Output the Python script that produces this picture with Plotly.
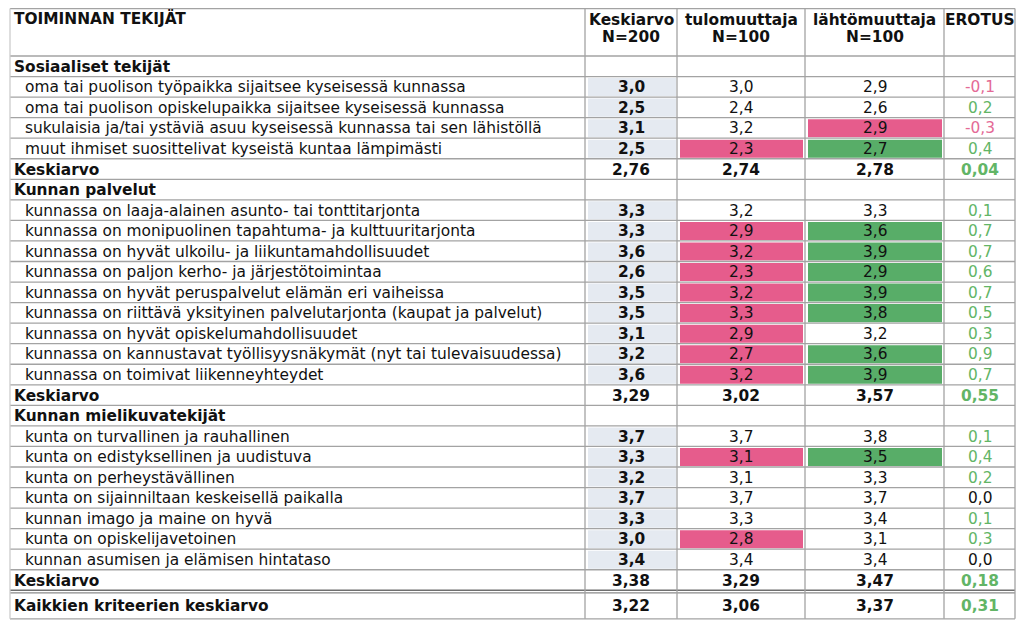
import plotly.graph_objects as go

# ---------------- data ----------------
header_title = "TOIMINNAN TEKIJÄT"
col_headers_1 = ["Keskiarvo", "tulomuuttaja", "lähtömuuttaja", "EROTUS"]
col_headers_2 = ["N=200", "N=100", "N=100", ""]

# row kinds: 'sec' = section title, 'item' = criterion, 'avg' = section average, 'total' = grand average
row_kinds = (["sec"] + ["item"] * 4 + ["avg"] +
             ["sec"] + ["item"] * 9 + ["avg"] +
             ["sec"] + ["item"] * 7 + ["avg"] + ["total"])

row_labels = [
    "Sosiaaliset tekijät",
    "oma tai puolison työpaikka sijaitsee kyseisessä kunnassa",
    "oma tai puolison opiskelupaikka sijaitsee kyseisessä kunnassa",
    "sukulaisia ja/tai ystäviä asuu kyseisessä kunnassa tai sen lähistöllä",
    "muut ihmiset suosittelivat kyseistä kuntaa lämpimästi",
    "Keskiarvo",
    "Kunnan palvelut",
    "kunnassa on laaja-alainen asunto- tai tonttitarjonta",
    "kunnassa on monipuolinen tapahtuma- ja kulttuuritarjonta",
    "kunnassa on hyvät ulkoilu- ja liikuntamahdollisuudet",
    "kunnassa on paljon kerho- ja järjestötoimintaa",
    "kunnassa on hyvät peruspalvelut elämän eri vaiheissa",
    "kunnassa on riittävä yksityinen palvelutarjonta (kaupat ja palvelut)",
    "kunnassa on hyvät opiskelumahdollisuudet",
    "kunnassa on kannustavat työllisyysnäkymät (nyt tai tulevaisuudessa)",
    "kunnassa on toimivat liikenneyhteydet",
    "Keskiarvo",
    "Kunnan mielikuvatekijät",
    "kunta on turvallinen ja rauhallinen",
    "kunta on edistyksellinen ja uudistuva",
    "kunta on perheystävällinen",
    "kunta on sijainniltaan keskeisellä paikalla",
    "kunnan imago ja maine on hyvä",
    "kunta on opiskelijavetoinen",
    "kunnan asumisen ja elämisen hintataso",
    "Keskiarvo",
    "Kaikkien kriteerien keskiarvo",
]

keskiarvo = ["", "3,0", "2,5", "3,1", "2,5", "2,76",
             "", "3,3", "3,3", "3,6", "2,6", "3,5", "3,5", "3,1", "3,2", "3,6", "3,29",
             "", "3,7", "3,3", "3,2", "3,7", "3,3", "3,0", "3,4", "3,38", "3,22"]
tulo = ["", "3,0", "2,4", "3,2", "2,3", "2,74",
        "", "3,2", "2,9", "3,2", "2,3", "3,2", "3,3", "2,9", "2,7", "3,2", "3,02",
        "", "3,7", "3,1", "3,1", "3,7", "3,3", "2,8", "3,4", "3,29", "3,06"]
lahto = ["", "2,9", "2,6", "2,9", "2,7", "2,78",
         "", "3,3", "3,6", "3,9", "2,9", "3,9", "3,8", "3,2", "3,6", "3,9", "3,57",
         "", "3,8", "3,5", "3,3", "3,7", "3,4", "3,1", "3,4", "3,47", "3,37"]
erotus = ["", "-0,1", "0,2", "-0,3", "0,4", "0,04",
          "", "0,1", "0,7", "0,7", "0,6", "0,7", "0,5", "0,3", "0,9", "0,7", "0,55",
          "", "0,1", "0,4", "0,2", "0,0", "0,1", "0,3", "0,0", "0,18", "0,31"]
# highlight flags: 'low' = significantly lower, 'high' = significantly higher
tulo_flag = ["", "", "", "", "low", "",
             "", "", "low", "low", "low", "low", "low", "low", "low", "low", "",
             "", "", "low", "", "", "", "low", "", "", ""]
lahto_flag = ["", "", "", "low", "high", "",
              "", "", "high", "high", "high", "high", "high", "", "high", "high", "",
              "", "", "high", "", "", "", "", "", "", ""]

# ---------------- layout / style ----------------
# page body has an 8px margin: the figure is offset by it, and the axes use page pixels
PAGE_W, PAGE_H = 1024, 629
OFF = 8
FIG_W, FIG_H = PAGE_W - 2 * OFF, PAGE_H - 2 * OFF - 1
col_edges = [10, 585, 677, 805, 944, 1015]
table_top = 8.5
header_bottom = 56
row_h = 20.55
total_gap = 2
total_h = 26.5

FONT = "DejaVu Sans"
FS = 15.4
GRID = "#a3a3a3"
PINK = "#e65c8c"
GREEN = "#58ad68"
KBG = "#e5eaf1"
TXT = "#111111"
POS_TXT = "#62b566"
NEG_TXT = "#e46a96"

fig = go.Figure()
shapes = []
ann = []

# row boundaries
n_regular = len(row_kinds) - 1
row_tops = [header_bottom + i * row_h for i in range(n_regular)]
row_bots = [t + row_h for t in row_tops]
total_top = row_bots[-1] + total_gap
row_tops.append(total_top)
row_bots.append(total_top + total_h)
table_bottom = row_bots[-1]

# cell fills
for i, kind in enumerate(row_kinds):
    t, b = row_tops[i], row_bots[i]
    if kind == "item":
        shapes.append(dict(type="rect", xref="x", yref="y", x0=col_edges[1] + 3, x1=col_edges[2] - 1,
                           y0=t + 1.5, y1=b - 1, fillcolor=KBG, line_width=0, layer="below"))
    for ci, flags in ((2, tulo_flag), (3, lahto_flag)):
        f = flags[i]
        if f:
            shapes.append(dict(type="rect", xref="x", yref="y", x0=col_edges[ci] + 3, x1=col_edges[ci + 1] - 2,
                               y0=t + 1.5, y1=b - 1, fillcolor=PINK if f == "low" else GREEN,
                               line_width=0, layer="below"))

# horizontal lines
h_lines = [table_top, header_bottom] + row_bots[:-2]
for y in h_lines:
    shapes.append(dict(type="line", xref="x", yref="y", x0=col_edges[0], x1=col_edges[-1], y0=y, y1=y,
                       line=dict(color=GRID, width=1.3)))
# double line above total
shapes.append(dict(type="line", xref="x", yref="y", x0=col_edges[0], x1=col_edges[-1],
                   y0=row_bots[-2], y1=row_bots[-2], line=dict(color="#6f6f6f", width=1.6)))
shapes.append(dict(type="line", xref="x", yref="y", x0=col_edges[0], x1=col_edges[-1],
                   y0=total_top + 0.5, y1=total_top + 0.5, line=dict(color="#8a8a8a", width=1.2)))
shapes.append(dict(type="line", xref="x", yref="y", x0=col_edges[0], x1=col_edges[-1],
                   y0=table_bottom, y1=table_bottom, line=dict(color=GRID, width=1.3)))
# vertical lines
for x in col_edges:
    shapes.append(dict(type="line", xref="x", yref="y", x0=x, x1=x, y0=table_top, y1=table_bottom,
                       line=dict(color=GRID if x != col_edges[0] else "#cccccc", width=1.3)))

# header texts
ann.append(dict(x=col_edges[0] + 2, y=table_top + 10, text="<b>" + header_title + "</b>",
                xanchor="left", yanchor="middle", font=dict(size=FS, color=TXT, family=FONT)))
for ci in range(4):
    xc = (col_edges[ci + 1] + col_edges[ci + 2]) / 2
    ann.append(dict(x=xc, y=table_top + 11, text="<b>" + col_headers_1[ci] + "</b>", xanchor="center",
                    yanchor="middle", font=dict(size=FS, color=TXT, family=FONT)))
    if col_headers_2[ci]:
        ann.append(dict(x=xc, y=table_top + 28, text="<b>" + col_headers_2[ci] + "</b>", xanchor="center",
                        yanchor="middle", font=dict(size=FS, color=TXT, family=FONT)))

# body texts
def erotus_color(s):
    if s.startswith("-"):
        return NEG_TXT
    if s.replace(",", "").strip("0") == "":
        return TXT
    return POS_TXT

for i, kind in enumerate(row_kinds):
    yc = (row_tops[i] + row_bots[i]) / 2 + 0.5
    bold = kind != "item"
    lab = row_labels[i]
    ann.append(dict(x=col_edges[0] + (2 if bold else 13), y=yc,
                    text=("<b>%s</b>" % lab) if bold else lab,
                    xanchor="left", yanchor="middle", font=dict(size=FS, color=TXT, family=FONT)))
    vals = [keskiarvo[i], tulo[i], lahto[i], erotus[i]]
    for ci, v in enumerate(vals):
        if not v:
            continue
        xc = (col_edges[ci + 1] + col_edges[ci + 2]) / 2
        b = (ci == 0) or kind in ("avg", "total")
        col = erotus_color(v) if ci == 3 else TXT
        ann.append(dict(x=xc, y=yc, text=("<b>%s</b>" % v) if b else v, xanchor="center",
                        yanchor="middle", font=dict(size=FS, color=col, family=FONT)))

for a in ann:
    a.update(xref="x", yref="y", showarrow=False)

fig.update_layout(
    width=FIG_W, height=FIG_H, margin=dict(l=0, r=0, t=0, b=0),
    paper_bgcolor="white", plot_bgcolor="white",
    xaxis=dict(range=[OFF, OFF + FIG_W], visible=False, fixedrange=True),
    yaxis=dict(range=[OFF + FIG_H, OFF], visible=False, fixedrange=True),
    shapes=shapes, annotations=ann, showlegend=False,
)
fig.write_html("out.html")
